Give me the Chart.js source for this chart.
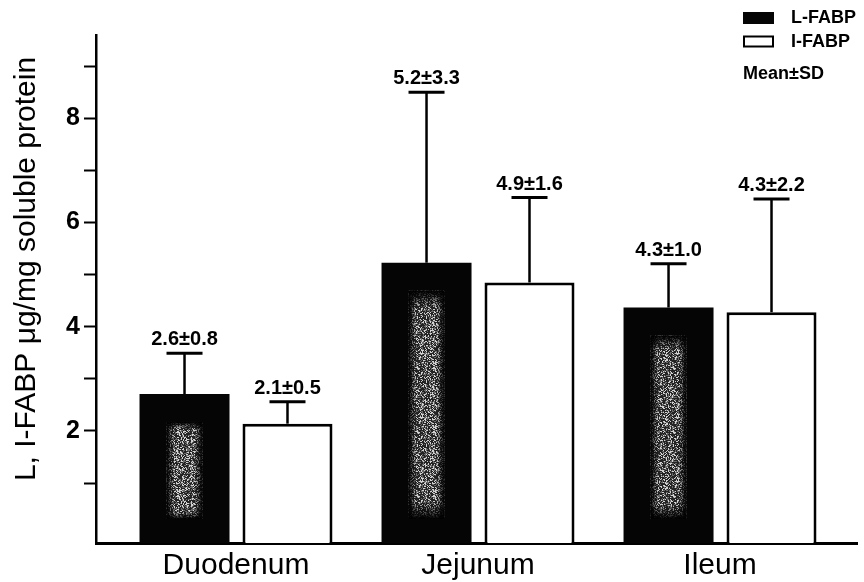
<!DOCTYPE html>
<html>
<head>
<meta charset="utf-8">
<script src="https://cdn.jsdelivr.net/npm/chart.js@4.4.1/dist/chart.umd.min.js"></script>
<style>
  html, body { margin: 0; padding: 0; background: #fff; }
</style>
</head>
<body>
<canvas id="chart" width="864" height="582"></canvas>
<script>
// values (bar tops and cap tops), printed labels as shown
var categories = ["Duodenum", "Jejunum", "Ileum"];
var lMean = [2.71, 5.23, 4.37];
var lSd = [0.78, 3.27, 0.84];
var iMean = [2.14, 4.85, 4.28];
var iSd = [0.42, 1.63, 2.17];
var lText = ["2.6\u00b10.8", "5.2\u00b13.3", "4.3\u00b11.0"];
var iText = ["2.1\u00b10.5", "4.9\u00b11.6", "4.3\u00b12.2"];
var yTicks = [1, 2, 3, 4, 5, 6, 7, 8, 9];
var yMin = -0.15, yMax = 9.6;
var yTitle = "L, I-FABP \u03bcg/mg soluble protein";

var FONT = '"Liberation Sans", Arial, Helvetica, sans-serif';

function points(vals) {
	return vals.map(function (v, i) { return {x: i, y: v}; });
}

// grainy grey stripe inside the black bars
function speckle(ctx) {
	var c = document.createElement('canvas');
	c.width = 64; c.height = 64;
	var g = c.getContext('2d');
	var img = g.createImageData(64, 64);
	for (var p = 0; p < 64 * 64; p++) {
		var h = Math.sin(p * 12.9898 + 78.233) * 43758.5453;
		h = h - Math.floor(h);
		var v = h > 0.78 ? 210 : (h > 0.5 ? 105 : 35);
		img.data[p * 4] = v; img.data[p * 4 + 1] = v; img.data[p * 4 + 2] = v;
		img.data[p * 4 + 3] = 255;
	}
	g.putImageData(img, 0, 0);
	return ctx.createPattern(c, 'repeat');
}

var barDecor = {
	id: 'barDecor',
	afterDatasetsDraw: function (chart) {
		var ctx = chart.ctx, y = chart.scales.y;
		var pat = speckle(ctx);
		// stripe on the L-FABP bars
		chart.getDatasetMeta(0).data.forEach(function (bar) {
			var x0 = bar.x - 18, x1 = bar.x + 18, t = bar.y + 28, b = bar.base - 24;
			ctx.save();
			ctx.fillStyle = pat;
			ctx.fillRect(x0, t, x1 - x0, b - t);
			var gr = ctx.createLinearGradient(x0, 0, x1, 0);
			gr.addColorStop(0, 'rgba(0,0,0,1)');
			gr.addColorStop(0.22, 'rgba(0,0,0,0)');
			gr.addColorStop(0.78, 'rgba(0,0,0,0)');
			gr.addColorStop(1, 'rgba(0,0,0,1)');
			ctx.fillStyle = gr;
			ctx.fillRect(x0, t, x1 - x0, b - t);
			var gv = ctx.createLinearGradient(0, t, 0, b);
			gv.addColorStop(0, 'rgba(0,0,0,1)');
			gv.addColorStop(0.08, 'rgba(0,0,0,0)');
			gv.addColorStop(0.92, 'rgba(0,0,0,0)');
			gv.addColorStop(1, 'rgba(0,0,0,1)');
			ctx.fillStyle = gv;
			ctx.fillRect(x0, t, x1 - x0, b - t);
			ctx.restore();
		});
		// upper error bars with the printed mean±SD
		chart.data.datasets.forEach(function (ds, di) {
			chart.getDatasetMeta(di).data.forEach(function (bar, i) {
				var top = y.getPixelForValue(ds.data[i].y + ds.sd[i]);
				ctx.save();
				ctx.strokeStyle = '#000';
				ctx.lineWidth = 2.5;
				ctx.beginPath();
				ctx.moveTo(bar.x, bar.y);
				ctx.lineTo(bar.x, top);
				ctx.stroke();
				ctx.lineWidth = 3;
				ctx.beginPath();
				ctx.moveTo(bar.x - 18, top);
				ctx.lineTo(bar.x + 18, top);
				ctx.stroke();
				ctx.fillStyle = '#000';
				ctx.font = 'bold 20px ' + FONT;
				ctx.textAlign = 'center';
				ctx.textBaseline = 'alphabetic';
				ctx.fillText(ds.notes[i], bar.x, top - 8);
				ctx.restore();
			});
		});
	}
};

// legend boxes top right plus the Mean±SD note, and the y title
var boxLegend = {
	id: 'boxLegend',
	afterDraw: function (chart) {
		var ctx = chart.ctx, a = chart.chartArea;
		var x0 = a.right - 114, y0 = 12;
		ctx.save();
		ctx.font = 'bold 18px ' + FONT;
		ctx.textAlign = 'left';
		ctx.textBaseline = 'middle';
		chart.data.datasets.forEach(function (ds, i) {
			var by = y0 + i * 23.5;
			ctx.fillStyle = ds.backgroundColor;
			ctx.fillRect(x0, by, 31, 12);
			if (ds.borderWidth) {
				ctx.strokeStyle = ds.borderColor;
				ctx.lineWidth = 2;
				ctx.strokeRect(x0 + 1, by + 1, 29, 10);
			}
			ctx.fillStyle = '#000';
			ctx.fillText(ds.label, x0 + 48, by + 6.5);
		});
		ctx.fillText('Mean\u00b1SD', x0, y0 + 62);

		ctx.translate(chart.scales.y.left + 23, (a.top + a.bottom) / 2 - 20);
		ctx.rotate(-Math.PI / 2);
		ctx.font = '30px ' + FONT;
		ctx.textAlign = 'center';
		ctx.fillText(yTitle, 0, 0);
		ctx.restore();
	}
};

var ctx = document.getElementById('chart').getContext('2d');
var chart = new Chart(ctx, {
	type: 'bar',
	data: {
		datasets: [
			{
				label: 'L-FABP',
				data: points(lMean),
				sd: lSd,
				notes: lText,
				backgroundColor: '#050505',
				borderWidth: 0,
				base: yMin
			},
			{
				label: 'I-FABP',
				data: points(iMean),
				sd: iSd,
				notes: iText,
				backgroundColor: '#ffffff',
				borderColor: '#000000',
				borderWidth: 3,
				base: yMin
			}
		]
	},
	options: {
		responsive: false,
		animation: false,
		categoryPercentage: 0.851,
		barPercentage: 0.874,
		layout: {padding: {top: 35, right: 7, left: 4, bottom: 0}},
		plugins: {
			legend: {display: false},
			tooltip: {enabled: false}
		},
		scales: {
			x: {
				type: 'linear',
				offset: false,
				min: -0.5785,
				max: 2.566,
				afterBuildTicks: function (s) {
					s.ticks = categories.map(function (c, i) { return {value: i}; });
				},
				afterFit: function (s) { s.height = 39; },
				grid: {display: false, drawTicks: false},
				border: {display: true, color: '#000', width: 3},
				ticks: {
					padding: 5,
					color: '#000',
					font: {family: FONT, size: 30},
					callback: function (v) { return categories[v]; }
				}
			},
			y: {
				min: yMin,
				max: yMax,
				afterBuildTicks: function (s) {
					s.ticks = yTicks.map(function (v) { return {value: v}; });
				},
				afterFit: function (s) { s.width = 92; },
				grid: {
					drawOnChartArea: false,
					drawTicks: true,
					tickLength: 12,
					tickWidth: 2,
					tickColor: '#000'
				},
				border: {display: true, color: '#000', width: 2.5},
				ticks: {
					padding: 4,
					color: '#000',
					font: {family: FONT, size: 25, weight: 'bold'},
					callback: function (v) { return v % 2 === 0 ? v : ''; }
				},
				title: {display: false}
			}
		}
	},
	plugins: [barDecor, boxLegend]
});
</script>
</body>
</html>
